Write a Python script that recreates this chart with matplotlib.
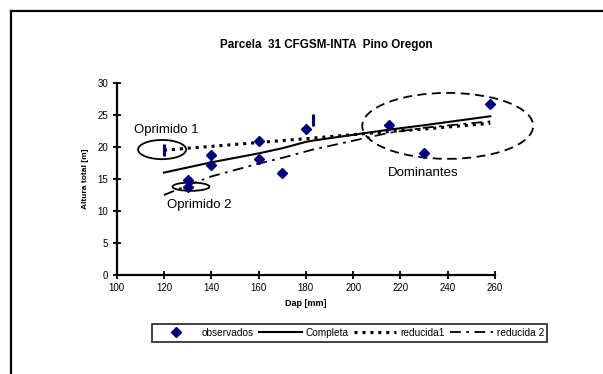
import matplotlib
matplotlib.use("Agg")
import matplotlib.pyplot as plt
from matplotlib.patches import Ellipse
from matplotlib.lines import Line2D

plt.rcParams["font.family"] = ["Liberation Sans", "DejaVu Sans"]

# ── Data ──────────────────────────────────────────────────────────────────────
obs_dap = [120, 130, 130, 140, 140, 160, 160, 170, 180, 183, 215, 230, 258]
obs_alt = [19.5, 14.8, 13.8, 18.8, 17.2, 21.0, 18.1, 16.0, 22.8, 24.2, 23.4, 19.1, 26.7]
obs_thin = [True, False, False, False, False, False, False, False, False, True,
            False, False, False]

fit_dap = [120, 130, 140, 160, 170, 180, 183, 215, 230, 258]
completa = [16.0, 16.8, 17.6, 19.0, 19.8, 20.8, 21.0, 22.7, 23.4, 24.8]
reducida1 = [19.5, 19.8, 20.1, 20.7, 21.0, 21.3, 21.4, 22.4, 22.8, 23.7]
reducida2 = [12.5, 14.0, 15.4, 17.4, 18.3, 19.3, 19.6, 22.2, 23.0, 24.0]

# annotation groups: (label, text pos, ellipse centre, width, height, dashed)
grupos = [
    ("Oprimido 1", (107.5, 22.6), (119.2, 19.6), 20.3, 3.0, False),
    ("Oprimido 2", (121.3, 11.0), (131.4, 13.8), 15.6, 1.3, False),
    ("Dominantes", (214.5, 15.9), (240.0, 23.3), 72.3, 10.3, True),
]

NAVY = "#000080"

fig = plt.figure(figsize=(6.03, 3.74), dpi=100)
ax = fig.add_axes([0.1935, 0.2647, 0.6274, 0.5134])

# outer frame (only top and left visible in original)
fig.add_artist(Line2D([11 / 603, 11 / 603], [0, 1 - 11 / 374], color="black",
                      lw=1.6, transform=fig.transFigure))
fig.add_artist(Line2D([11 / 603, 1], [1 - 11 / 374, 1 - 11 / 374], color="black",
                      lw=1.6, transform=fig.transFigure))

# observed points
ax.plot([x for x, t in zip(obs_dap, obs_thin) if not t],
        [y for y, t in zip(obs_alt, obs_thin) if not t],
        ls="none", marker="D", ms=5, color=NAVY, label="observados", zorder=5)
ax.plot([x for x, t in zip(obs_dap, obs_thin) if t],
        [y for y, t in zip(obs_alt, obs_thin) if t],
        ls="none", marker="|", ms=8, mew=2.2, color=NAVY, zorder=5)

ax.plot(fit_dap, completa, color="black", lw=1.5, label="Completa")
ax.plot(fit_dap, reducida1, color="black", lw=2.2, ls=(0, (1, 1.6)),
        label="reducida1")
ax.plot(fit_dap, reducida2, color="black", lw=1.3, ls=(0, (6, 3, 1.5, 3)),
        label="reducida 2")

for txt, tpos, c, w, h, dashed in grupos:
    ax.text(tpos[0], tpos[1], txt, fontsize=9.5, ha="left", va="center")
    ax.add_patch(Ellipse(c, w, h, fill=False, ec="black", lw=1.3,
                         ls=(0, (5, 3)) if dashed else "-", clip_on=False))

ax.set_xlim(100, 260)
ax.set_ylim(0, 30)
ax.set_xticks(range(100, 261, 20))
ax.set_yticks(range(0, 31, 5))
ax.spines["top"].set_visible(False)
ax.spines["right"].set_visible(False)
ax.spines["left"].set_linewidth(1.6)
ax.spines["bottom"].set_linewidth(1.6)
ax.tick_params(direction="inout", length=6, width=1.3, labelsize=7, pad=3)

ax.set_xlabel("Dap [mm]", fontsize=6.5, fontweight="bold", labelpad=4)
ax.set_ylabel("Altura total [m]", fontsize=6, fontweight="bold", labelpad=6)

fig.text(326 / 603, 1 - 45 / 374, "Parcela  31 CFGSM-INTA  Pino Oregon",
         fontsize=8.4, fontweight="bold", ha="center", va="center")

leg = fig.legend(loc="center", bbox_to_anchor=(349.5 / 603, 1 - 333 / 374),
                 ncol=4, fontsize=7.3, frameon=True, fancybox=False,
                 handlelength=4.2, columnspacing=0.5, handletextpad=0.4,
                 borderpad=0.35, borderaxespad=0)
leg.get_frame().set_edgecolor("black")
leg.get_frame().set_linewidth(1.3)

fig.savefig("out.png", dpi=100)
